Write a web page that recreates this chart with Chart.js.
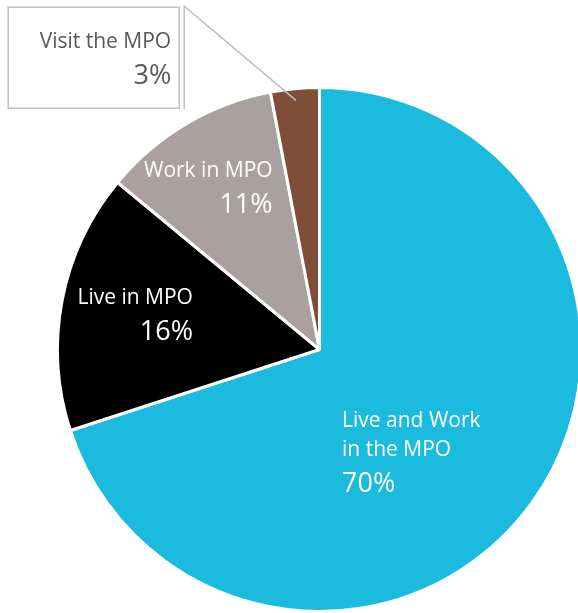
<!DOCTYPE html>
<html>
<head>
<meta charset="utf-8">
<script src="https://cdn.jsdelivr.net/npm/chart.js@4/dist/chart.umd.min.js"></script>
<style>
  html, body { margin: 0; padding: 0; background: #fff; overflow: hidden; }
  #wrap { width: 578px; height: 613px; overflow: hidden; }
</style>
</head>
<body>
<div id="wrap">
  <canvas id="chart" width="640" height="613"></canvas>
</div>
<script>
// Donnees
const categories = [['Live and Work', 'in the MPO'], ['Live in MPO'], ['Work in MPO'], ['Visit the MPO']]
const shares = [70, 16, 11, 3]
const colors = ['#1abbde', '#000000', '#a9a09f', '#7e4e38']

// Position des etiquettes, relative au centre du camembert (en fraction du rayon)
const labelLayout = [
    { fx: 0.086, fy: 0.296, align: 'left', color: '#ffffff' },
    { fx: -0.483, fy: -0.174, align: 'right', color: '#ffffff' },
    { fx: -0.179, fy: -0.658, align: 'right', color: '#ffffff' },
    { fx: -0.566, fy: -1.15, align: 'right', color: '#595959', boxed: true }
]

const FONT = '"Open Sans", "Noto Sans", sans-serif'

const pieLabels = {
    id: 'pieLabels',
    afterDatasetsDraw(chart) {
        const ctx = chart.ctx
        const meta = chart.getDatasetMeta(0)
        meta.data.forEach((arc, i) => {
            const cfg = labelLayout[i]
            const r = arc.outerRadius
            const x = arc.x + cfg.fx * r
            let y = arc.y + cfg.fy * r
            const lines = categories[i]

            ctx.save()
            if (cfg.boxed) {
                // cadre + ligne de rappel vers la part
                const mid = (arc.startAngle + arc.endAngle) / 2
                const tipX = arc.x + Math.cos(mid) * r * 0.955
                const tipY = arc.y + Math.sin(mid) * r * 0.955
                const left = x - 163, top = y - 41, right = x + 8, bottom = y + 60
                ctx.strokeStyle = '#bfbfbf'
                ctx.lineWidth = 1.5
                ctx.strokeRect(left, top, right - left, bottom - top)
                ctx.beginPath()
                ctx.moveTo(right + 5, bottom + 1)
                ctx.lineTo(right + 5, top - 1)
                ctx.lineTo(tipX, tipY)
                ctx.stroke()
            }
            ctx.fillStyle = cfg.color
            ctx.textAlign = cfg.align
            ctx.textBaseline = 'alphabetic'
            ctx.font = '21px ' + FONT
            lines.forEach((line, k) => {
                if (k > 0) y += 29
                ctx.fillText(line, x, y)
            })
            y += 36
            ctx.font = '27px ' + FONT
            ctx.fillText(shares[i] + '%', x, y)
            ctx.restore()
        })
    }
}

new Chart(document.getElementById('chart'), {
    type: 'pie',
    data: {
        labels: categories.map(c => c.join(' ')),
        datasets: [{
            data: shares,
            backgroundColor: colors,
            borderColor: '#ffffff',
            borderWidth: 3
        }]
    },
    options: {
        responsive: false,
        animation: false,
        layout: { padding: { left: 56, top: 86, right: 57, bottom: 0 } },
        plugins: {
            legend: { display: false },
            tooltip: { enabled: false }
        }
    },
    plugins: [pieLabels]
})
</script>
</body>
</html>
